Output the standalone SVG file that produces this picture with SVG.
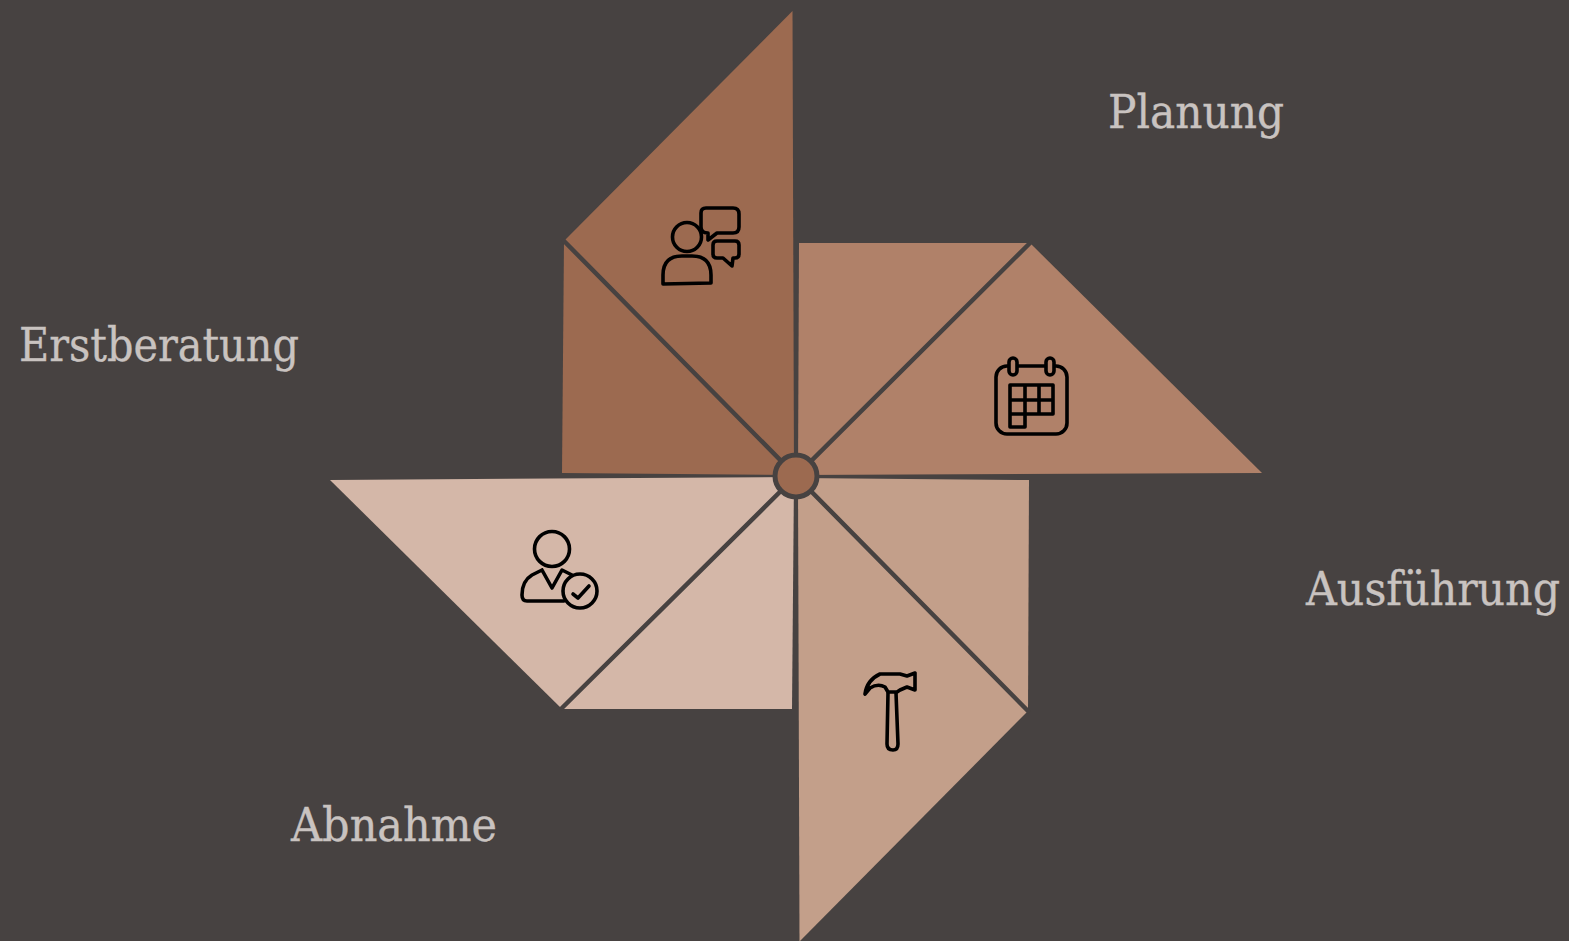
<svg xmlns="http://www.w3.org/2000/svg" width="1569" height="941" viewBox="0 0 1569 941">
<style>
text{font-family:"DejaVu Serif","Liberation Serif",serif;font-size:46px;fill:#c9c3c0;stroke:#c9c3c0;stroke-width:.35}
.d{stroke:#474241;stroke-width:4.500;fill:none;stroke-linecap:round}
.i{stroke:#000;stroke-width:3.600;fill:none;stroke-linejoin:round;stroke-linecap:round}
</style>
<rect width="1569" height="941" fill="#474241"/>
<g id="blade-erstberatung"><path d="M792.500 11L564 241L562 473L794 475Z" fill="#9c6a50"/>
<g class="i"><circle cx="687" cy="237" r="14.500"/><path d="M663 284V275Q663 256 682 256H692Q711 256 711 275V283Z"/><path d="M706 208H733Q739 208 739 214V227Q739 233 733 233H717L708 240V233Q701 233 701 227V213Q701 208 706 208Z"/><path d="M717 241H735Q739 241 739 245V254Q739 258 735 258H733L732 266L723 258H717Q713 258 713 254V245Q713 241 717 241Z"/></g></g>
<g id="blade-planung"><path d="M799 243H1030L1262 473L798 475Z" fill="#b08169"/>
<g class="i"><rect x="996" y="366" width="71" height="68" rx="11"/><rect x="1009" y="358" width="8" height="17" rx="4" fill="#b08169"/><rect x="1046" y="358" width="8" height="17" rx="4" fill="#b08169"/><path d="M1010 385H1053V414H1025V427H1010ZM1010 400H1053M1010 414H1025M1025 385V414M1039 385V414"/></g></g>
<g id="blade-ausfuehrung"><path d="M798 478L1029 480L1028 711L800 941H799.500Z" fill="#c39f8a"/>
<g class="i"><path d="M865 694Q867 680 880 674H900L907 676L915 673V690L907 687L900 690L897 692H888L885 687Q878 683 870 688Z"/><path d="M888 693L887 744Q887 750 893 750Q898 750 898 744L896 693"/></g></g>
<g id="blade-abnahme"><path d="M330 480L794 477L792 709H562Z" fill="#d4b7a8"/>
<g class="i"><circle cx="552" cy="549" r="17.500"/><path d="M542 570L552 588L562 570L572 575M542 570L532 575Q522 581 522 595Q522 601 527 601H564"/><circle cx="580" cy="591" r="17"/><path d="M573 594L578 598L589 586"/></g></g>
<g id="connectors"><path class="d" d="M564 241L796 476L1030 243M796 476L1028 711M796 476L562 708"/></g>
<g id="hub"><circle cx="796" cy="476" r="21" fill="#9c6a50" stroke="#474241" stroke-width="5"/></g>
<g id="labels"><text x="19" y="361" textLength="280" lengthAdjust="spacingAndGlyphs">Erstberatung</text><text x="1108" y="128" textLength="176" lengthAdjust="spacingAndGlyphs">Planung</text><text transform="translate(1306 605) scale(.925 1)" textLength="274.600" lengthAdjust="spacingAndGlyphs">Ausführung</text><text x="291" y="841" textLength="206" lengthAdjust="spacingAndGlyphs">Abnahme</text></g>
</svg>
